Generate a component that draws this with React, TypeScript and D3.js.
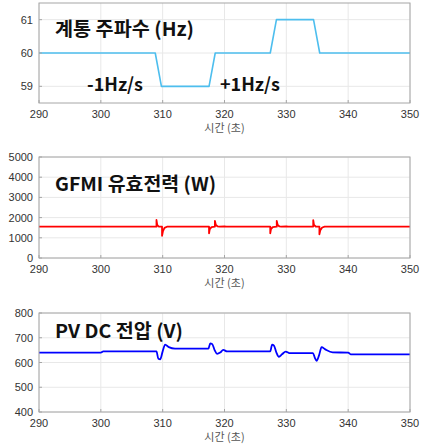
import React from 'react';
import * as d3 from 'd3';

// 시간 축 (초)
const timeTicks = [290, 300, 310, 320, 330, 340, 350];

// 계통 주파수
const freqTime = [290, 308.8, 309.8, 317.5, 318.5, 327.4, 328.4, 334.4, 335.4, 350];
const freqHz = [60, 60, 59, 59, 60, 60, 61, 61, 60, 60];
const freqTicks = [59, 60, 61];

// GFMI 유효전력
const powerTime = [
  290, 309.0, 309.0, 309.12, 309.35, 309.9, 309.9, 310.05, 310.3, 310.7,
  317.5, 317.5, 317.62, 317.9, 318.45, 318.45, 318.6, 318.85, 319.2, 320, 320.3,
  327.4, 327.4, 327.52, 327.8, 328.45, 328.45, 328.6, 328.85, 329.2, 330, 330.3,
  334.35, 334.35, 334.47, 334.75, 335.35, 335.35, 335.5, 335.8, 336.2, 350,
];
const powerW = [
  1550, 1550, 1880, 1640, 1560, 1550, 1100, 1330, 1490, 1550,
  1550, 1220, 1430, 1530, 1550, 1840, 1640, 1570, 1555, 1560, 1555,
  1555, 1220, 1430, 1530, 1550, 1840, 1640, 1570, 1555, 1565, 1555,
  1555, 1870, 1640, 1560, 1550, 1170, 1380, 1510, 1550, 1550,
];
const powerTicks = [0, 1000, 2000, 3000, 4000, 5000];

// PV DC 전압
const voltTime = [
  290, 300, 300.4, 309.0, 309.3, 309.6, 310.0, 310.4, 311, 312,
  317.4, 317.7, 318.0, 318.4, 318.8, 319.3, 319.8, 320.4,
  327.4, 327.7, 328.0, 328.4, 328.8, 329.3, 329.9, 330.5,
  334.3, 334.6, 334.9, 335.3, 335.7, 336.3, 337.5, 340.0, 340.4, 350,
];
const voltV = [
  640, 640, 645, 645, 615, 613, 645, 672, 662, 656,
  656, 677, 675, 650, 635, 640, 651, 645,
  645, 672, 668, 640, 623, 633, 644, 638,
  638, 620, 607, 630, 662, 653, 641, 640, 633, 633,
];
const voltTicks = [400, 500, 600, 700, 800];

const X0 = 39;
const X1 = 410;
const FONT = "'Liberation Sans', Arial, sans-serif";
const KFONT = "'Noto Sans CJK KR', sans-serif";

type PanelProps = {
  top: number;
  bottom: number;
  domain: [number, number];
  yTicks: number[];
  xs: number[];
  ys: number[];
  color: string;
  width: number;
  curve: d3.CurveFactory;
  title: string;
  titleY: number;
  titleW: number;
  children?: React.ReactNode;
};

const Panel = ({ top, bottom, domain, yTicks, xs, ys, color, width, curve, title, titleY, titleW, children }: PanelProps) => {
  const x = d3.scaleLinear().domain([290, 350]).range([X0, X1]);
  const y = d3.scaleLinear().domain(domain).range([bottom, top]);
  const pts: [number, number][] = xs.map((t, i) => [t, ys[i]]);
  const line = d3.line<[number, number]>().x(d => x(d[0])).y(d => y(d[1])).curve(curve);

  return (
    <g>
      <rect x={X0} y={top} width={X1 - X0} height={bottom - top} fill="white" />
      {timeTicks.map(t => (
        <line key={'gx' + t} x1={x(t)} x2={x(t)} y1={top} y2={bottom} stroke="#e8e8e8" strokeWidth={1} />
      ))}
      {yTicks.map(v => (
        <line key={'gy' + v} x1={X0} x2={X1} y1={y(v)} y2={y(v)} stroke="#e8e8e8" strokeWidth={1} />
      ))}
      <text x={55} y={titleY} fontFamily={KFONT} fontWeight={700} fontSize={19} fill="#111"
        textLength={titleW} lengthAdjust="spacingAndGlyphs">{title}</text>
      {children}
      <path d={line(pts) ?? ''} fill="none" stroke={color} strokeWidth={width} strokeLinejoin="round" />
      <rect x={X0} y={top} width={X1 - X0} height={bottom - top} fill="none" stroke="#a6a6a6" strokeWidth={1} />
      {timeTicks.map(t => (
        <g key={'tx' + t}>
          <line x1={x(t)} x2={x(t)} y1={bottom} y2={bottom - 3} stroke="#a6a6a6" />
          <text x={x(t)} y={bottom + 15} textAnchor="middle" fontFamily={FONT} fontSize={11} fill="#333">{t}</text>
        </g>
      ))}
      {yTicks.map(v => (
        <g key={'ty' + v}>
          <line x1={X0} x2={X0 + 3} y1={y(v)} y2={y(v)} stroke="#a6a6a6" />
          <text x={33} y={y(v) + 4} textAnchor="end" fontFamily={FONT} fontSize={11} fill="#333">{v}</text>
        </g>
      ))}
      <text x={(X0 + X1) / 2} y={bottom + 29} textAnchor="middle" fontFamily={KFONT} fontSize={11} fill="#555">시간 (초)</text>
    </g>
  );
};

export default function App() {
  return (
    <svg width={422} height={447} style={{ position: 'absolute', left: 0, top: 0, background: 'white' }}>
      <rect width={422} height={447} fill="white" />
      <Panel top={3} bottom={103} domain={[58.5, 61.5]} yTicks={freqTicks} xs={freqTime} ys={freqHz}
        color="#4dbeee" width={1.6} curve={d3.curveLinear} title="계통 주파수 (Hz)" titleY={36} titleW={139}>
        <text x={87} y={91} fontFamily={KFONT} fontWeight={700} fontSize={18} fill="#111">-1Hz/s</text>
        <text x={220} y={91} fontFamily={KFONT} fontWeight={700} fontSize={18} fill="#111">+1Hz/s</text>
      </Panel>
      <Panel top={157} bottom={258} domain={[0, 5000]} yTicks={powerTicks} xs={powerTime} ys={powerW}
        color="#ff0000" width={1.8} curve={d3.curveLinear} title="GFMI 유효전력 (W)" titleY={191} titleW={161} />
      <Panel top={313} bottom={412} domain={[400, 800]} yTicks={voltTicks} xs={voltTime} ys={voltV}
        color="#0000ff" width={1.8} curve={d3.curveMonotoneX} title="PV DC 전압 (V)" titleY={338} titleW={128} />
    </svg>
  );
}
